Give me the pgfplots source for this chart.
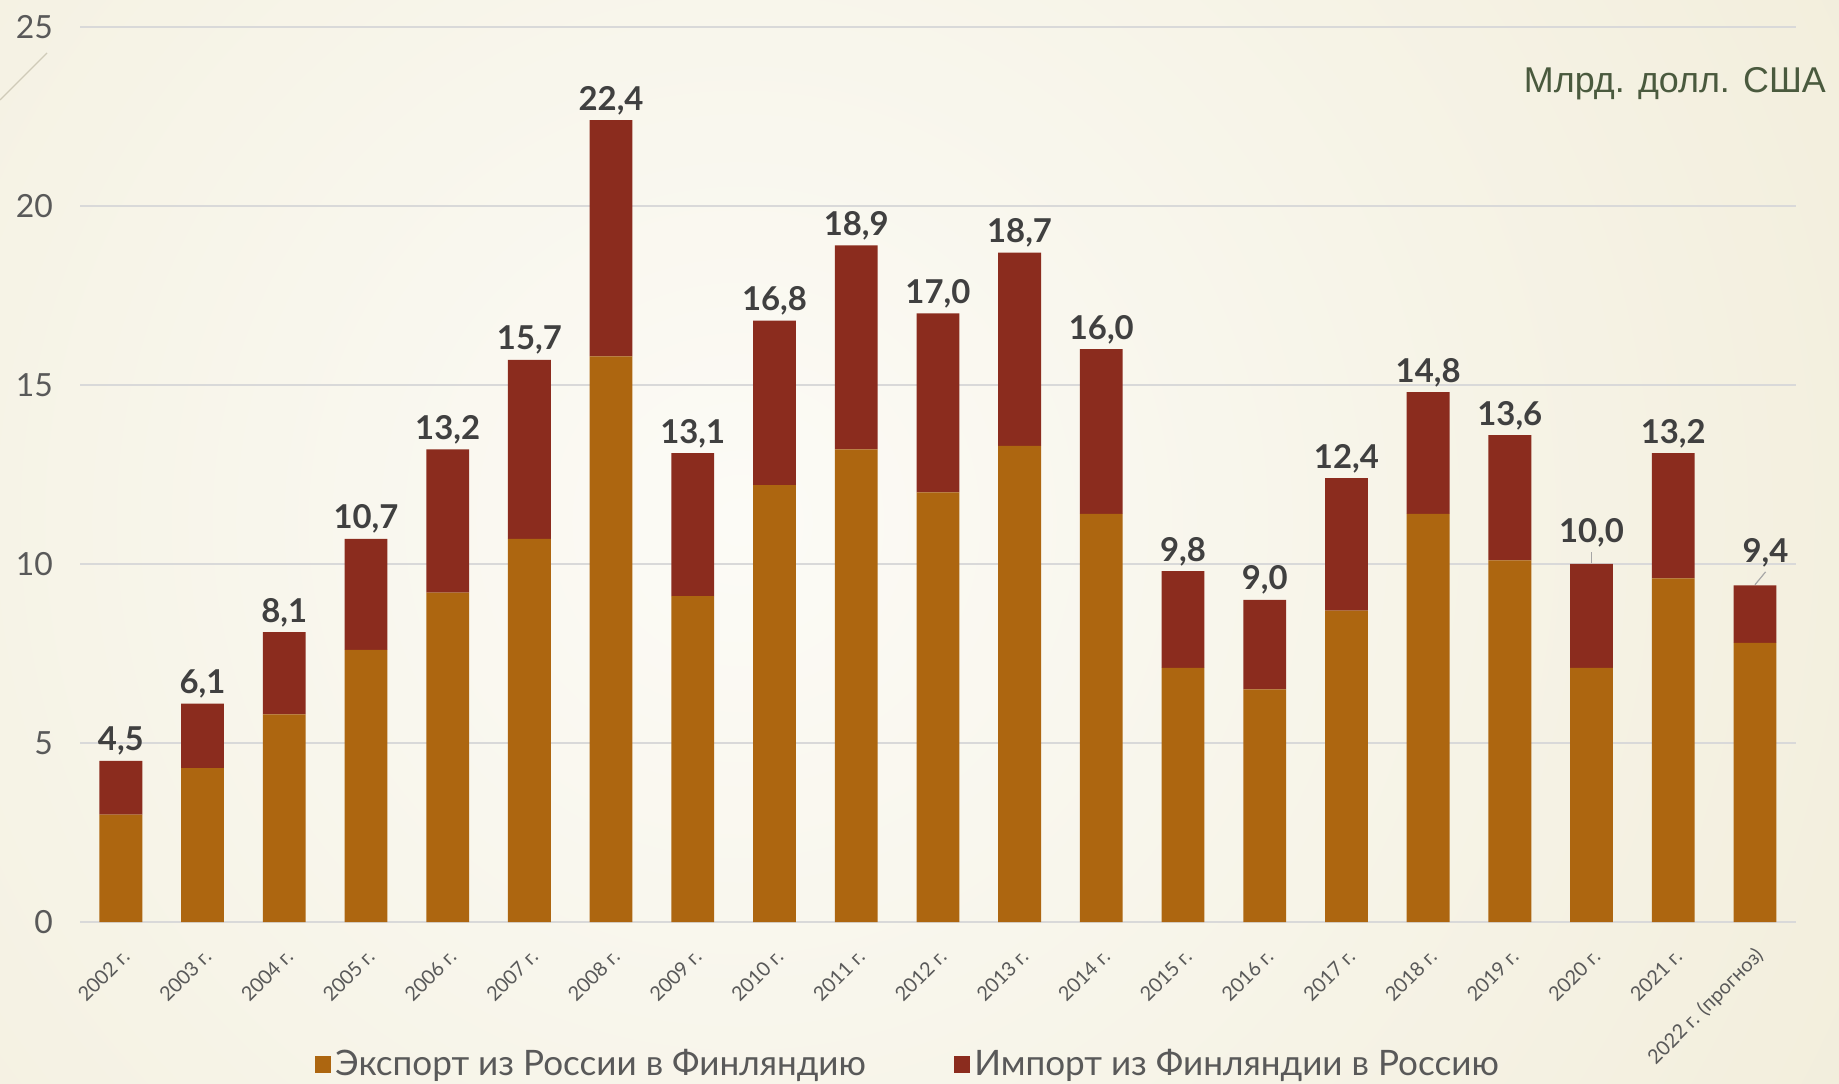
\documentclass[border=0pt]{standalone}
\usepackage{pgfplots}
\pgfplotsset{compat=1.18}
\usepackage{pgfplotstable}
\usepackage{fontspec}
\setmainfont{Lato}
\newfontfamily\arialfont{Liberation Sans}
\definecolor{expc}{HTML}{AD6610}
\definecolor{impc}{HTML}{8B2C1E}
\definecolor{tickc}{HTML}{595959}
\definecolor{labc}{HTML}{404040}
\definecolor{gridc}{HTML}{D9D9D9}
\definecolor{bgin}{HTML}{FCFBF6}
\definecolor{bgout}{HTML}{E9E2C4}
\definecolor{unitc}{HTML}{4A5A3E}
\definecolor{decoc}{HTML}{CFCBB8}
\definecolor{leadc}{HTML}{A6A6A6}

\pgfplotstableread{
x exp imp tot lab
0 3.0 1.5 4.5 4,5
1 4.3 1.8 6.1 6,1
2 5.8 2.3 8.1 8,1
3 7.6 3.1 10.7 10,7
4 9.2 4.0 13.2 13,2
5 10.7 5.0 15.7 15,7
6 15.8 6.6 22.4 22,4
7 9.1 4.0 13.1 13,1
8 12.2 4.6 16.8 16,8
9 13.2 5.7 18.9 18,9
10 12.0 5.0 17.0 17,0
11 13.3 5.4 18.7 18,7
12 11.4 4.6 16.0 16,0
13 7.1 2.7 9.8 9,8
14 6.5 2.5 9.0 9,0
15 8.7 3.7 12.4 12,4
16 11.4 3.4 14.8 14,8
17 10.1 3.5 13.6 13,6
19 9.6 3.5 13.1 13,2
}\data

\pgfplotstableread{
x exp imp tot lab
18 7.1 2.9 10.0 10,0
}\dataA

\pgfplotstableread{
x exp imp tot lab
20 7.8 1.6 9.4 9,4
}\dataB

\pgfplotstableread{
x exp imp
0 3.0 1.5
1 4.3 1.8
2 5.8 2.3
3 7.6 3.1
4 9.2 4.0
5 10.7 5.0
6 15.8 6.6
7 9.1 4.0
8 12.2 4.6
9 13.2 5.7
10 12.0 5.0
11 13.3 5.4
12 11.4 4.6
13 7.1 2.7
14 6.5 2.5
15 8.7 3.7
16 11.4 3.4
17 10.1 3.5
18 7.1 2.9
19 9.6 3.5
20 7.8 1.6
}\bars

\pgfplotsset{
  common/.style={
    at={(0,0)}, anchor=south west, scale only axis,
    width=857.9bp, height=447.5bp,
    xmin=-0.5, xmax=20.5, ymin=0, ymax=25,
    clip=false,
  }
}

\begin{document}
\begin{tikzpicture}
\useasboundingbox (-40bp,-81bp) rectangle (879.5bp,461bp);
\begin{scope}
\clip (-40bp,-81bp) rectangle (879.5bp,461bp);
\shade[inner color=bgin, outer color=bgout] (-870bp,-1000bp) rectangle (1530bp,1400bp);
\end{scope}
\draw[decoc, line width=0.6bp] (-40bp,411bp) -- (-16.5bp,434.5bp);
\begin{axis}[
  common,
  ybar stacked, bar width=21.4bp,
  axis line style={draw=none}, tick style={draw=none},
  ymajorgrids, grid style={gridc, line width=1bp},
  ytick={0,5,10,15,20,25},
  xtick={0,...,20},
  xticklabels={2002 г.,2003 г.,2004 г.,2005 г.,2006 г.,2007 г.,2008 г.,2009 г.,2010 г.,2011 г.,2012 г.,2013 г.,2014 г.,2015 г.,2016 г.,2017 г.,2018 г.,2019 г.,2020 г.,2021 г.,2022 г. (прогноз)},
  /pgf/number format/assume math mode=true,
  yticklabel style={font=\fontsize{16}{18}\selectfont, text=tickc, xshift=-10bp},
  xticklabel style={font=\fontsize{10}{12}\selectfont, text=tickc, xshift=5bp, yshift=-13bp, rotate=45, anchor=east},
  legend columns=2,
  legend style={at={(0.483,-0.159)}, anchor=center, draw=none, fill=none,
    font=\fontsize{17.6}{19}\selectfont, text=tickc,
    /tikz/every even column/.append style={column sep=42bp}},
  legend cell align=left,
  legend image code/.code={\fill[#1] (-2bp,-4.1bp) rectangle (6.2bp,4.1bp);},
]
\addplot[fill=expc, draw=none] table[x=x, y=exp] {\bars};
\addlegendentry{Экспорт из России в Финляндию}
\addplot[fill=impc, draw=none] table[x=x, y=imp] {\bars};
\addlegendentry{Импорт из Финляндии в Россию}
\draw[leadc, line width=0.6bp] (axis cs:18,10.02) -- (axis cs:18,10.33);
\draw[leadc, line width=0.6bp] (axis cs:20,9.42) -- (axis cs:20.13,9.78);
\end{axis}
\begin{axis}[
  common, hide axis,
  nodes near coords style={font=\bfseries\fontsize{16.5}{18}\selectfont, text=labc, inner sep=0pt, anchor=base},
]
\addplot[only marks, mark=none, point meta=explicit symbolic,
  nodes near coords, nodes near coords style={yshift=5bp}]
  table[x=x, y=tot, meta=lab] {\data};
\addplot[only marks, mark=none, point meta=explicit symbolic,
  nodes near coords, nodes near coords style={yshift=10.5bp}]
  table[x=x, y=tot, meta=lab] {\dataA};
\addplot[only marks, mark=none, point meta=explicit symbolic,
  nodes near coords, nodes near coords style={yshift=11.7bp, xshift=5.3bp}]
  table[x=x, y=tot, meta=lab] {\dataB};
\end{axis}
\node[anchor=base east, font=\arialfont\fontsize{18}{20}\selectfont, text=unitc] at (876.5bp,414.5bp) {Млрд. долл. США};
\end{tikzpicture}
\end{document}
